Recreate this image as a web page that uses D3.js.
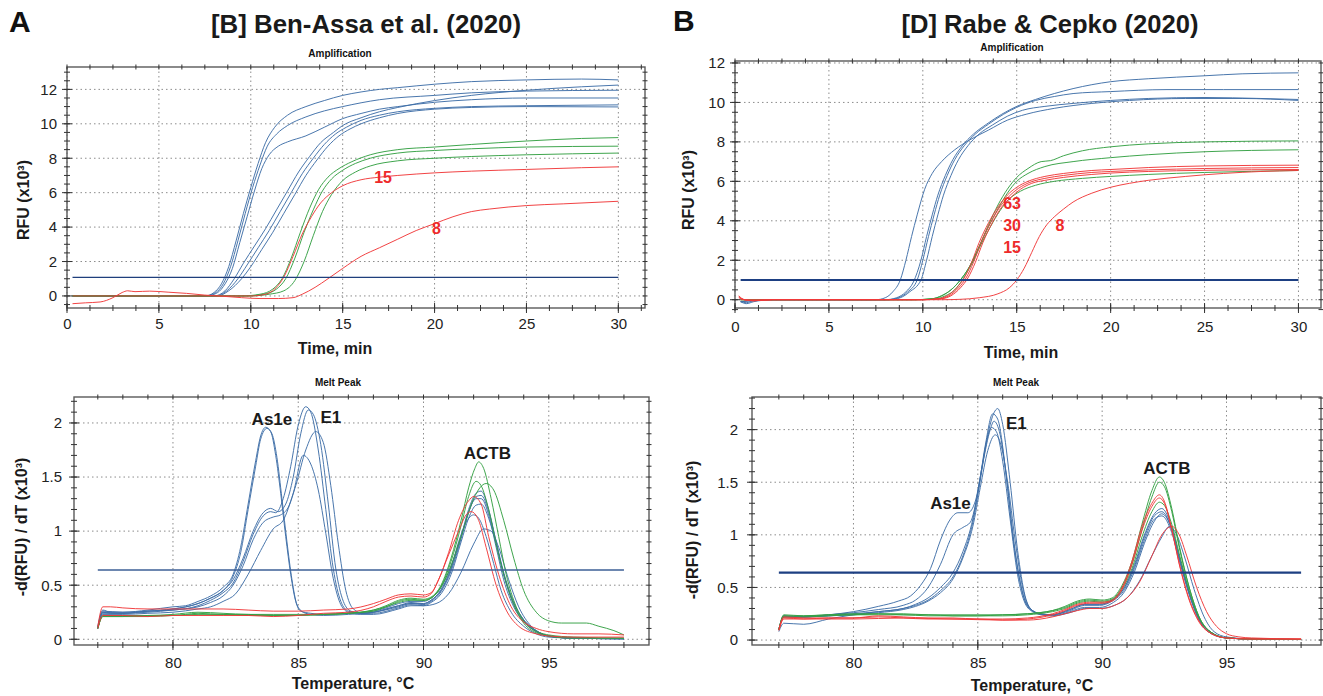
<!DOCTYPE html>
<html>
<head>
<meta charset="utf-8">
<script src="https://cdn.jsdelivr.net/npm/d3@7"></script>
<style>
  body { margin: 0; background: #fff; }
  svg { display: block; font-family: "Liberation Sans", Arial, sans-serif; }
</style>
</head>
<body>
<svg id="fig" width="1323" height="696"></svg>
<script>
// ---- tick values ----
const ampTicksX = [0, 5, 10, 15, 20, 25, 30];
const ampTicksY = [0, 2, 4, 6, 8, 10, 12];
const meltTicksX = [80, 85, 90, 95];
const meltTicksY = [0, 0.5, 1, 1.5, 2];

// ---- [B] Ben-Assa amplification (min, RFU x10^3) ----
const ampA_blue = [
  [[0.3,0],[7.5,0],[8,0.2],[8.4,0.7],[8.8,1.7],[9.2,3.2],[9.6,4.8],[10,6.3],[10.4,7.7],[10.8,8.9],[11.3,9.8],[12,10.5],[13,11.0],[14,11.35],[15,11.65],[16,11.85],[17,12.0],[18,12.1],[20,12.3],[22,12.45],[25,12.55],[28,12.6],[30,12.55]],
  [[0.3,0],[7.5,0],[8.1,0.2],[8.5,0.7],[8.9,1.7],[9.3,3.2],[9.7,4.8],[10.1,6.3],[10.5,7.6],[10.9,8.7],[11.4,9.4],[12,9.9],[13,10.4],[14,10.75],[15,11.0],[17,11.4],[20,11.65],[22,11.8],[25,11.9],[30,11.95]],
  [[0.3,0],[7.6,0],[8.2,0.2],[8.6,0.7],[9,1.6],[9.4,3.1],[9.8,4.6],[10.2,6.1],[10.6,7.4],[11,8.2],[11.5,8.7],[12,8.95],[13,9.3],[14,9.8],[15,10.3],[16,10.6],[17,10.85],[18,11.0],[20,11.25],[22,11.4],[25,11.5],[30,11.5]],
  [[0.3,0],[8,0],[8.6,0.3],[9.1,1.0],[9.6,1.9],[10.2,2.9],[10.8,3.9],[11.4,5.0],[12,6.1],[12.6,7.2],[13.2,8.1],[13.8,8.9],[14.5,9.5],[15,9.9],[16,10.35],[17,10.7],[18,10.95],[20,11.35],[22,11.65],[25,11.95],[28,12.15],[30,12.25]],
  [[0.3,0],[8.1,0],[8.7,0.3],[9.3,1.0],[9.8,1.8],[10.4,2.8],[11,3.8],[11.6,4.9],[12.2,6.0],[12.8,7.1],[13.4,8.0],[14,8.8],[14.6,9.4],[15.2,9.8],[16,10.2],[17,10.5],[18,10.7],[20,10.9],[22,11.0],[25,11.05],[30,11.1]],
  [[0.3,0],[8.2,0],[8.8,0.3],[9.5,1.0],[10,1.7],[10.6,2.7],[11.2,3.7],[11.8,4.8],[12.4,5.9],[13,7.0],[13.6,7.9],[14.2,8.7],[14.8,9.3],[15.4,9.7],[16,10.0],[17,10.35],[18,10.6],[20,10.85],[22,10.95],[25,11.0],[30,10.98]]
];
const ampA_green = [
  [[0.3,0],[9.5,0],[10.5,0.1],[11.2,0.4],[11.7,1.0],[12.2,2.2],[12.7,3.7],[13.2,5.1],[13.7,6.2],[14.2,6.9],[14.8,7.4],[15.5,7.8],[16.5,8.2],[18,8.5],[20,8.65],[22,8.8],[25,9.0],[28,9.15],[30,9.2]],
  [[0.3,0],[9.7,0],[10.7,0.1],[11.4,0.4],[11.9,1.0],[12.4,2.2],[12.9,3.7],[13.4,5.0],[13.9,6.1],[14.4,6.8],[15,7.3],[15.7,7.7],[16.5,8.0],[18,8.3],[20,8.45],[22,8.55],[25,8.65],[30,8.7]],
  [[0.3,0],[10,0],[11,0.1],[11.8,0.3],[12.4,0.9],[12.9,2.0],[13.4,3.5],[13.9,4.9],[14.4,5.9],[15,6.7],[15.7,7.2],[16.5,7.55],[18,7.85],[20,8.0],[22,8.1],[25,8.2],[30,8.3]]
];
const ampA_red = [
  [[0.3,0],[9,0],[10,0],[10.8,0.1],[11.3,0.4],[11.8,1.1],[12.3,2.3],[12.8,3.6],[13.3,4.6],[13.8,5.4],[14.4,6.0],[15,6.4],[16,6.75],[17,6.9],[18,7.0],[20,7.15],[22,7.25],[25,7.35],[28,7.45],[30,7.5]],
  [[0.3,-0.45],[1,-0.4],[1.8,-0.35],[2.5,-0.1],[3,0.2],[3.3,0.3],[3.7,0.25],[4.5,0.28],[5.5,0.22],[6.5,0.15],[7.5,0.05],[8.5,-0.02],[9.5,-0.1],[10.5,-0.15],[11.5,-0.15],[12.3,-0.1],[12.8,0.1],[13.5,0.5],[14.2,1.0],[15,1.6],[16,2.3],[17,2.8],[18,3.3],[19,3.8],[20,4.2],[21,4.6],[22,4.9],[23,5.05],[25,5.25],[27,5.35],[30,5.5]]
];
const ampA_labels = [["15", 17.2, 6.9], ["8", 20.1, 3.9]];
const ampA_threshold = 1.08;

// ---- [D] Rabe & Cepko amplification ----
const ampB_blue = [
  [[0.3,-0.1],[0.6,-0.15],[1,-0.05],[2,0],[7.5,0],[8,0.1],[8.4,0.4],[8.8,1.0],[9.1,2.0],[9.4,3.2],[9.7,4.3],[10.1,5.6],[10.5,6.4],[11,7.0],[11.7,7.6],[12.5,8.1],[13.5,8.6],[14.5,9.1],[15.5,9.4],[17,9.7],[19,9.95],[21,10.1],[24,10.2],[27,10.2],[30,10.1]],
  [[0.3,-0.1],[0.6,-0.2],[1,-0.1],[2,0],[8,0],[8.6,0.1],[9.1,0.4],[9.5,0.9],[9.9,2.0],[10.2,3.2],[10.5,4.3],[10.8,5.3],[11.2,6.3],[11.6,7.1],[12.1,7.8],[12.7,8.4],[13.4,8.9],[14.2,9.4],[15,9.8],[16,10.15],[17,10.45],[18,10.7],[19,10.9],[20,11.05],[22,11.2],[25,11.35],[27,11.45],[30,11.5]],
  [[0.3,-0.1],[2,0],[8.1,0],[8.7,0.1],[9.2,0.4],[9.7,1.0],[10,2.0],[10.3,3.2],[10.6,4.3],[10.9,5.3],[11.3,6.3],[11.7,7.1],[12.2,7.8],[12.8,8.4],[13.5,8.9],[14.3,9.4],[15,9.75],[16,10.1],[17,10.3],[18,10.45],[20,10.55],[23,10.65],[26,10.65],[30,10.65]],
  [[0.3,-0.1],[2,0],[8.2,0],[8.8,0.1],[9.3,0.4],[9.9,1.0],[10.2,2.0],[10.5,3.2],[10.8,4.3],[11.1,5.3],[11.5,6.3],[11.9,7.1],[12.4,7.8],[13,8.4],[13.7,8.85],[14.5,9.3],[15.3,9.6],[16.5,9.8],[18,9.95],[20,10.1],[22,10.2],[25,10.25],[28,10.2],[30,10.15]]
];
const ampB_green = [
  [[0.3,0],[9.5,0],[10.5,0.05],[11,0.2],[11.5,0.5],[12,1.0],[12.5,1.7],[13,2.7],[13.5,3.8],[14,4.8],[14.5,5.6],[15,6.2],[15.6,6.65],[16.3,7.0],[16.8,7.05],[17.5,7.3],[18.5,7.55],[20,7.75],[22,7.9],[25,8.0],[30,8.05]],
  [[0.3,0],[9.5,0],[10.5,0.05],[11,0.2],[11.5,0.5],[12,1.0],[12.5,1.7],[13,2.7],[13.5,3.7],[14,4.6],[14.5,5.4],[15,6.0],[15.6,6.4],[16.5,6.75],[18,7.0],[20,7.2],[22,7.35],[25,7.5],[30,7.6]],
  [[0.3,0],[9.7,0],[10.7,0.05],[11.2,0.2],[11.7,0.5],[12.1,1.0],[12.6,1.8],[13.1,2.8],[13.6,3.7],[14.1,4.5],[14.6,5.1],[15.2,5.5],[16,5.8],[17,6.0],[18.5,6.15],[20,6.25],[22,6.35],[25,6.45],[30,6.55]]
];
const ampB_red = [
  [[0.2,0.2],[0.5,0],[1,-0.05],[2,0],[10,0],[10.8,0.05],[11.3,0.2],[11.8,0.6],[12.2,1.1],[12.6,1.9],[13,2.9],[13.5,3.9],[14,4.7],[14.5,5.3],[15,5.7],[15.6,6.0],[16.5,6.25],[17.5,6.4],[19,6.55],[20,6.6],[22,6.7],[25,6.78],[30,6.82]],
  [[0.2,0.15],[0.5,0],[1,-0.05],[2,0],[10,0],[10.9,0.05],[11.4,0.2],[11.9,0.6],[12.3,1.1],[12.7,1.9],[13.1,2.9],[13.6,3.9],[14.1,4.7],[14.6,5.25],[15.1,5.65],[15.7,5.95],[16.5,6.15],[17.5,6.3],[19,6.45],[20,6.5],[22,6.58],[25,6.65],[30,6.7]],
  [[0.2,0.1],[0.5,0],[1,-0.05],[2,0],[10,0],[11,0.05],[11.5,0.2],[12,0.6],[12.4,1.1],[12.8,1.9],[13.2,2.9],[13.7,3.9],[14.2,4.7],[14.7,5.2],[15.2,5.6],[15.8,5.9],[16.5,6.05],[17.5,6.2],[19,6.35],[20,6.42],[22,6.5],[25,6.56],[30,6.6]],
  [[0.3,0],[11,0],[12,0.02],[13,0.1],[14,0.3],[14.6,0.6],[15,1.0],[15.4,1.6],[15.8,2.4],[16.2,3.2],[16.6,3.8],[17,4.2],[17.5,4.6],[18,4.95],[19,5.4],[20,5.7],[21,5.9],[22,6.05],[24,6.25],[26,6.4],[28,6.5],[30,6.55]]
];
const ampB_labels = [["63", 14.75, 4.9], ["30", 14.75, 3.75], ["15", 14.75, 2.65], ["8", 17.3, 3.75]];
const ampB_threshold = 1.0;

// ---- [B] Ben-Assa melt peak (degC, -dRFU/dT x10^3) ----
const meltA_blue = [
  [[77,0.12],[77.2,0.27],[77.5,0.25],[78,0.25],[79,0.27],[80,0.3],[80.5,0.31],[81,0.35],[81.5,0.4],[82,0.48],[82.4,0.6],[82.7,0.85],[83,1.25],[83.3,1.65],[83.5,1.88],[83.7,1.96],[83.9,1.92],[84.1,1.7],[84.3,1.35],[84.5,0.95],[84.7,0.6],[84.9,0.35],[85.1,0.26],[85.5,0.24],[86,0.23],[87,0.24],[88,0.26],[88.5,0.29],[89,0.33],[89.5,0.35],[90,0.35],[90.3,0.38],[90.7,0.48],[91.1,0.68],[91.5,0.95],[91.8,1.18],[92.1,1.3],[92.3,1.3],[92.6,1.15],[92.9,0.85],[93.2,0.55],[93.6,0.3],[94,0.16],[94.5,0.07],[95,0.03],[96,0.01],[98,0.005]],
  [[77,0.11],[77.2,0.25],[77.5,0.24],[78,0.24],[79,0.26],[80,0.28],[81,0.33],[81.5,0.38],[82,0.45],[82.4,0.58],[82.7,0.8],[83,1.2],[83.3,1.6],[83.5,1.85],[83.75,1.95],[83.95,1.9],[84.15,1.68],[84.35,1.3],[84.55,0.9],[84.75,0.55],[84.95,0.32],[85.2,0.25],[85.5,0.23],[86,0.22],[87,0.23],[88,0.25],[88.5,0.28],[89,0.31],[89.5,0.33],[90,0.33],[90.3,0.36],[90.7,0.46],[91.1,0.66],[91.4,0.9],[91.7,1.08],[92,1.15],[92.2,1.12],[92.5,0.95],[92.8,0.7],[93.1,0.45],[93.5,0.25],[94,0.12],[94.5,0.05],[95,0.02],[96,0.01],[98,0.005]],
  [[77,0.1],[77.2,0.26],[78,0.25],[79,0.26],[80,0.28],[81,0.33],[81.5,0.38],[82,0.45],[82.4,0.55],[82.8,0.75],[83.2,1.0],[83.6,1.17],[83.9,1.21],[84.2,1.18],[84.5,1.25],[84.8,1.5],[85.1,1.9],[85.4,2.12],[85.6,2.08],[85.9,1.8],[86.2,1.25],[86.5,0.65],[86.8,0.35],[87.1,0.26],[87.5,0.24],[88,0.25],[89,0.31],[89.5,0.34],[90,0.33],[90.3,0.36],[90.7,0.45],[91.1,0.65],[91.5,0.95],[91.8,1.2],[92.1,1.35],[92.3,1.37],[92.6,1.2],[92.9,0.9],[93.2,0.6],[93.6,0.32],[94,0.17],[94.5,0.07],[95,0.03],[96,0.01],[98,0.005]],
  [[77,0.1],[77.2,0.25],[78,0.24],[79,0.26],[80,0.27],[81,0.31],[81.5,0.36],[82,0.43],[82.4,0.52],[82.8,0.72],[83.2,0.97],[83.6,1.14],[83.9,1.18],[84.1,1.17],[84.4,1.3],[84.7,1.6],[85,1.98],[85.3,2.15],[85.5,2.1],[85.8,1.75],[86.1,1.2],[86.4,0.65],[86.7,0.35],[87,0.26],[87.5,0.24],[88,0.25],[89,0.3],[89.5,0.33],[90,0.32],[90.3,0.35],[90.7,0.44],[91.1,0.63],[91.5,0.93],[91.8,1.17],[92.1,1.32],[92.3,1.33],[92.6,1.18],[92.9,0.9],[93.2,0.62],[93.6,0.34],[94,0.18],[94.5,0.08],[95,0.03],[96,0.01],[98,0.005]],
  [[77,0.1],[77.2,0.24],[78,0.24],[79,0.25],[80,0.27],[81,0.3],[81.5,0.34],[82,0.4],[82.4,0.5],[82.8,0.68],[83.2,0.92],[83.6,1.08],[84,1.13],[84.3,1.15],[84.6,1.22],[84.9,1.42],[85.3,1.75],[85.7,1.92],[86,1.82],[86.3,1.42],[86.6,0.88],[86.9,0.45],[87.2,0.28],[87.6,0.24],[88,0.24],[89,0.29],[89.5,0.32],[90,0.31],[90.3,0.34],[90.7,0.42],[91.1,0.6],[91.5,0.9],[91.8,1.12],[92.1,1.24],[92.3,1.25],[92.6,1.12],[92.9,0.88],[93.2,0.6],[93.6,0.34],[94,0.18],[94.5,0.08],[95,0.03],[96,0.01],[98,0.005]],
  [[77,0.1],[77.2,0.23],[78,0.23],[79,0.24],[80,0.25],[81,0.28],[81.5,0.3],[82,0.35],[82.5,0.42],[83,0.6],[83.5,0.82],[84,1.02],[84.4,1.1],[84.8,1.35],[85.2,1.7],[85.5,1.62],[85.8,1.38],[86.1,0.98],[86.4,0.56],[86.7,0.32],[87,0.25],[87.5,0.23],[88,0.23],[89,0.28],[89.5,0.31],[90,0.31],[90.5,0.33],[91,0.42],[91.5,0.62],[92,0.88],[92.4,1.02],[92.7,1.0],[93,0.85],[93.4,0.55],[93.8,0.3],[94.3,0.12],[95,0.03],[96,0.01],[98,0.005]]
];
const meltA_green = [
  [[77,0.1],[77.2,0.22],[78,0.22],[79,0.22],[80,0.23],[81,0.25],[82,0.24],[83,0.23],[84,0.23],[85,0.23],[86,0.23],[87,0.24],[88,0.27],[88.5,0.31],[89,0.36],[89.5,0.38],[90,0.37],[90.3,0.39],[90.7,0.5],[91.1,0.75],[91.5,1.1],[91.8,1.4],[92.05,1.58],[92.2,1.64],[92.4,1.58],[92.7,1.3],[93,0.95],[93.3,0.6],[93.7,0.3],[94.2,0.12],[95,0.04],[96,0.02],[98,0.01]],
  [[77,0.1],[77.2,0.21],[78,0.21],[79,0.22],[80,0.22],[81,0.24],[82,0.23],[83,0.23],[84,0.22],[85,0.22],[86,0.23],[87,0.24],[88,0.27],[88.5,0.3],[89,0.35],[89.5,0.37],[90,0.36],[90.3,0.38],[90.7,0.49],[91.1,0.72],[91.5,1.05],[91.8,1.32],[92.1,1.46],[92.3,1.42],[92.6,1.2],[92.9,0.88],[93.3,0.52],[93.7,0.27],[94.2,0.1],[95,0.03],[96,0.01],[98,0.01]],
  [[77,0.1],[77.2,0.21],[78,0.21],[79,0.21],[80,0.22],[81,0.23],[82,0.23],[83,0.22],[84,0.22],[85,0.22],[86,0.23],[87,0.24],[88,0.26],[88.5,0.3],[89,0.34],[89.5,0.36],[90,0.36],[90.5,0.42],[91,0.62],[91.5,0.95],[92,1.3],[92.5,1.44],[92.8,1.38],[93.2,1.1],[93.6,0.75],[94,0.45],[94.5,0.25],[95,0.17],[95.5,0.15],[96.5,0.15],[97,0.12],[97.6,0.08],[98,0.04]]
];
const meltA_red = [
  [[77,0.12],[77.2,0.3],[77.5,0.3],[78,0.29],[79,0.28],[80,0.28],[81,0.28],[82,0.28],[83,0.27],[84,0.26],[85,0.26],[86,0.27],[87,0.28],[88,0.33],[88.5,0.37],[89,0.41],[89.5,0.42],[90,0.41],[90.3,0.43],[90.6,0.55],[91,0.8],[91.4,1.1],[91.8,1.28],[92,1.32],[92.3,1.25],[92.6,0.95],[93,0.6],[93.5,0.3],[94,0.16],[94.5,0.1],[95,0.07],[96,0.05],[97,0.05],[98,0.04]],
  [[77,0.1],[77.2,0.22],[78,0.22],[79,0.21],[80,0.22],[81,0.22],[82,0.22],[83,0.22],[84,0.21],[85,0.22],[86,0.24],[87,0.25],[88,0.3],[88.5,0.35],[89,0.39],[89.5,0.4],[90,0.39],[90.3,0.42],[90.6,0.55],[91,0.78],[91.4,1.0],[91.7,1.15],[91.9,1.18],[92.2,1.1],[92.5,0.85],[92.9,0.5],[93.3,0.27],[93.8,0.12],[94.5,0.05],[95,0.03],[96,0.02],[97,0.02],[98,0.02]]
];
const meltA_labels = [["As1e", 83.95, 2.03], ["E1", 86.3, 2.05], ["ACTB", 92.55, 1.72]];
const meltA_threshold = 0.64;

// ---- [D] Rabe & Cepko melt peak ----
const meltB_blue = [
  [[77,0.1],[77.2,0.23],[77.5,0.22],[78,0.22],[79,0.24],[80,0.27],[81,0.32],[81.8,0.37],[82.3,0.42],[82.7,0.52],[83.1,0.68],[83.5,0.95],[83.9,1.15],[84.2,1.21],[84.6,1.21],[84.9,1.32],[85.2,1.68],[85.5,2.0],[85.65,2.08],[85.9,1.95],[86.2,1.45],[86.5,0.85],[86.8,0.45],[87.1,0.3],[87.5,0.25],[88,0.24],[88.7,0.29],[89.3,0.34],[89.9,0.34],[90.4,0.38],[90.9,0.5],[91.3,0.7],[91.7,0.98],[92.1,1.18],[92.4,1.22],[92.8,1.05],[93.1,0.78],[93.5,0.44],[93.9,0.19],[94.4,0.06],[95,0.02],[96,0.01],[98,0.005]],
  [[77,0.1],[77.2,0.23],[78,0.22],[79,0.24],[80,0.26],[81,0.29],[82,0.33],[82.5,0.38],[83,0.5],[83.5,0.72],[84,1.0],[84.4,1.07],[84.7,1.12],[85,1.4],[85.3,1.85],[85.6,2.15],[85.8,2.1],[86.1,1.65],[86.4,1.0],[86.7,0.55],[87,0.32],[87.5,0.25],[88,0.24],[88.7,0.29],[89.3,0.34],[89.9,0.34],[90.4,0.38],[90.9,0.5],[91.3,0.72],[91.7,1.0],[92.1,1.2],[92.4,1.25],[92.8,1.07],[93.1,0.8],[93.5,0.45],[93.9,0.2],[94.4,0.07],[95,0.02],[96,0.01],[98,0.005]],
  [[77,0.08],[77.2,0.16],[78,0.15],[79,0.2],[80,0.24],[81,0.27],[82,0.3],[82.5,0.34],[83,0.4],[83.5,0.5],[84,0.64],[84.4,0.84],[84.8,1.15],[85.1,1.55],[85.4,1.95],[85.65,2.16],[85.8,2.2],[86,2.05],[86.3,1.5],[86.6,0.85],[86.9,0.42],[87.2,0.28],[87.6,0.24],[88,0.23],[88.7,0.27],[89.3,0.31],[89.9,0.31],[90.4,0.35],[90.9,0.46],[91.3,0.65],[91.7,0.92],[92.1,1.13],[92.4,1.2],[92.8,1.05],[93.1,0.78],[93.5,0.45],[93.9,0.2],[94.4,0.07],[95,0.02],[96,0.01],[98,0.005]],
  [[77,0.1],[77.2,0.22],[78,0.22],[79,0.23],[80,0.25],[81,0.27],[82,0.3],[82.5,0.33],[83,0.38],[83.5,0.47],[84,0.6],[84.4,0.8],[84.8,1.12],[85.1,1.52],[85.35,1.88],[85.55,2.02],[85.75,1.98],[86,1.7],[86.3,1.15],[86.6,0.62],[86.9,0.35],[87.2,0.27],[87.6,0.24],[88,0.24],[88.7,0.28],[89.3,0.33],[89.9,0.33],[90.4,0.37],[90.9,0.48],[91.3,0.68],[91.7,0.95],[92.1,1.15],[92.4,1.18],[92.8,1.02],[93.1,0.76],[93.5,0.43],[93.9,0.19],[94.4,0.06],[95,0.02],[96,0.01],[98,0.005]],
  [[77,0.1],[77.2,0.22],[78,0.22],[79,0.23],[80,0.24],[81,0.26],[82,0.29],[82.5,0.32],[83,0.37],[83.5,0.45],[84,0.58],[84.4,0.78],[84.8,1.08],[85.1,1.45],[85.4,1.8],[85.7,1.95],[85.9,1.88],[86.2,1.5],[86.5,0.95],[86.8,0.5],[87.1,0.3],[87.5,0.25],[88,0.23],[88.7,0.26],[89.3,0.3],[89.9,0.3],[90.5,0.33],[91,0.4],[91.5,0.56],[92,0.8],[92.4,0.98],[92.7,1.08],[93,1.0],[93.3,0.8],[93.7,0.48],[94.1,0.22],[94.5,0.08],[95,0.03],[96,0.01],[98,0.005]]
];
const meltB_green = [
  [[77,0.1],[77.2,0.24],[78,0.23],[79,0.24],[80,0.25],[81,0.25],[82,0.25],[83,0.24],[84,0.24],[85,0.24],[86,0.24],[87,0.25],[88,0.28],[88.5,0.32],[89,0.37],[89.5,0.39],[90,0.38],[90.4,0.4],[90.8,0.52],[91.2,0.75],[91.6,1.1],[92,1.42],[92.3,1.55],[92.5,1.5],[92.8,1.25],[93.1,0.9],[93.5,0.5],[93.9,0.22],[94.4,0.07],[95,0.02],[96,0.01],[98,0.005]],
  [[77,0.1],[77.2,0.23],[78,0.23],[79,0.24],[80,0.24],[81,0.25],[82,0.24],[83,0.24],[84,0.23],[85,0.23],[86,0.24],[87,0.25],[88,0.28],[88.5,0.31],[89,0.36],[89.5,0.38],[90,0.37],[90.4,0.39],[90.8,0.5],[91.2,0.72],[91.6,1.05],[92,1.36],[92.3,1.5],[92.5,1.46],[92.8,1.22],[93.1,0.88],[93.5,0.5],[93.9,0.22],[94.4,0.07],[95,0.02],[96,0.01],[98,0.005]],
  [[77,0.1],[77.2,0.22],[78,0.22],[79,0.23],[80,0.24],[81,0.24],[82,0.24],[83,0.23],[84,0.23],[85,0.23],[86,0.23],[87,0.24],[88,0.27],[88.5,0.3],[89,0.35],[89.5,0.37],[90,0.36],[90.4,0.38],[90.8,0.48],[91.2,0.68],[91.6,0.98],[92,1.22],[92.3,1.31],[92.5,1.28],[92.8,1.1],[93.1,0.82],[93.5,0.47],[93.9,0.21],[94.4,0.07],[95,0.02],[96,0.01],[98,0.005]]
];
const meltB_red = [
  [[77,0.1],[77.2,0.22],[78,0.21],[79,0.21],[80,0.21],[81,0.23],[82,0.22],[83,0.21],[84,0.21],[85,0.2],[86,0.2],[87,0.21],[88,0.25],[88.5,0.29],[89,0.34],[89.5,0.36],[90,0.36],[90.4,0.38],[90.8,0.5],[91.2,0.75],[91.6,1.08],[92,1.3],[92.3,1.38],[92.5,1.32],[92.8,1.05],[93.1,0.72],[93.5,0.38],[93.9,0.17],[94.4,0.06],[95,0.02],[96,0.01],[98,0.01]],
  [[77,0.1],[77.2,0.21],[78,0.2],[79,0.21],[80,0.21],[81,0.22],[82,0.21],[83,0.2],[84,0.2],[85,0.2],[86,0.19],[87,0.2],[88,0.24],[88.5,0.28],[89,0.33],[89.5,0.35],[90,0.35],[90.4,0.37],[90.8,0.48],[91.2,0.72],[91.6,1.04],[92,1.27],[92.3,1.35],[92.5,1.3],[92.8,1.05],[93.1,0.73],[93.5,0.39],[93.9,0.18],[94.4,0.06],[95,0.02],[96,0.01],[98,0.01]],
  [[77,0.09],[77.2,0.2],[78,0.2],[80,0.2],[82,0.21],[84,0.2],[86,0.19],[87,0.19],[88,0.22],[88.5,0.25],[89,0.28],[89.5,0.3],[90,0.3],[90.5,0.33],[91,0.4],[91.5,0.55],[92,0.8],[92.4,1.0],[92.8,1.08],[93.1,1.0],[93.4,0.8],[93.8,0.5],[94.2,0.27],[94.6,0.13],[95,0.06],[95.5,0.03],[96,0.02],[98,0.01]]
];
const meltB_labels = [["E1", 86.55, 2.06], ["As1e", 83.9, 1.3], ["ACTB", 92.6, 1.63]];
const meltB_threshold = 0.64;

// ---- colours ----
const cBlue = "#3f6fa8", cGreen = "#35a043", cRed = "#f0393a", cNavy = "#1f3f7c";

const svg = d3.select("#fig");
const fmt = d3.format("~g"); // 0, 0.5, 1, 1.5, 2

function drawPanel(p) {
  const g = svg.append("g");
  const x = d3.scaleLinear().domain(p.xDomain).range([p.left, p.right]);
  const y = d3.scaleLinear().domain(p.yDomain).range([p.bottom, p.top]);

  // dotted grid
  g.selectAll(".gx").data(p.xTicks).join("line")
    .attr("x1", d => x(d)).attr("x2", d => x(d))
    .attr("y1", p.top).attr("y2", p.bottom)
    .attr("stroke", "#8c8c8c").attr("stroke-width", 1).attr("stroke-dasharray", "1.5,3");
  g.selectAll(".gy").data(p.yTicks).join("line")
    .attr("x1", p.left).attr("x2", p.right)
    .attr("y1", d => y(d)).attr("y2", d => y(d))
    .attr("stroke", "#8c8c8c").attr("stroke-width", 1).attr("stroke-dasharray", "1.5,3");

  // curves
  const line = d3.line().x(d => x(d[0])).y(d => y(d[1])).curve(d3.curveMonotoneX);
  p.series.forEach(s => {
    g.append("g").selectAll("path").data(s.data).join("path")
      .attr("d", line)
      .attr("fill", "none")
      .attr("stroke", s.color)
      .attr("stroke-width", 1)
      .attr("stroke-opacity", 0.95);
  });

  // threshold
  g.append("line")
    .attr("x1", x(p.thrRange[0])).attr("x2", x(p.thrRange[1]))
    .attr("y1", y(p.threshold)).attr("y2", y(p.threshold))
    .attr("stroke", p.thrColor).attr("stroke-width", p.thrWidth);

  // frame
  g.append("rect")
    .attr("x", p.left).attr("y", p.top)
    .attr("width", p.right - p.left).attr("height", p.bottom - p.top)
    .attr("fill", "none").attr("stroke", "#5a5a5a").attr("stroke-width", 1.4);

  // minor ticks (crossing the frame) and major ticks
  const minorX = d3.range(p.minorX[0], p.xDomain[1], p.minorX[1]);
  const minorY = d3.range(p.minorY[0], p.yDomain[1], p.minorY[1]);
  const tickLine = (sel, vals, horiz, pos, len) => {
    sel.append("g").selectAll("line").data(vals).join("line")
      .attr("x1", d => horiz ? x(d) : pos - len).attr("x2", d => horiz ? x(d) : pos + len)
      .attr("y1", d => horiz ? pos - len : y(d)).attr("y2", d => horiz ? pos + len : y(d))
      .attr("stroke", "#333").attr("stroke-width", 1);
  };
  tickLine(g, minorX, true, p.bottom, 3);
  tickLine(g, minorX, true, p.top, 2.5);
  tickLine(g, minorY, false, p.left, 3);
  tickLine(g, minorY, false, p.right, 2.5);
  tickLine(g, p.xTicks, true, p.bottom, 5);
  tickLine(g, p.yTicks, false, p.left, 5);

  // tick labels via d3 axes
  const ax = g.append("g").attr("transform", `translate(0,${p.bottom})`)
    .call(d3.axisBottom(x).tickValues(p.xTicks).tickFormat(fmt).tickSize(0).tickPadding(p.xPad));
  const ay = g.append("g").attr("transform", `translate(${p.left},0)`)
    .call(d3.axisLeft(y).tickValues(p.yTicks).tickFormat(fmt).tickSize(0).tickPadding(p.yPad));
  [ax, ay].forEach(a => {
    a.select(".domain").remove();
    a.selectAll("text").attr("font-size", 15).attr("fill", "#222")
      .attr("font-family", "'Liberation Sans', Arial, sans-serif");
  });

  // curve labels
  g.selectAll(".lab").data(p.labels).join("text")
    .attr("x", d => x(d[1])).attr("y", d => y(d[2]))
    .attr("text-anchor", "middle").attr("dominant-baseline", "central")
    .attr("font-size", p.labelSize).attr("font-weight", "bold")
    .attr("fill", p.labelColor)
    .text(d => d[0]);

  // small chart title
  g.append("text").attr("x", p.subX).attr("y", p.subY)
    .attr("text-anchor", "middle").attr("font-size", 10).attr("font-weight", "bold")
    .attr("fill", "#111").text(p.sub);

  // axis titles
  g.append("text").attr("x", p.xLabX).attr("y", p.xLabY)
    .attr("text-anchor", "middle").attr("font-size", 16).attr("font-weight", "bold")
    .attr("fill", "#1a1a1a").text(p.xLabel);
  g.append("text")
    .attr("transform", `translate(${p.yLabX},${p.yLabY}) rotate(-90)`)
    .attr("text-anchor", "middle").attr("font-size", 16).attr("font-weight", "bold")
    .attr("fill", "#1a1a1a").text(p.yLabel);
}

const ampSeries = (b, gr, r) => [{ data: b, color: cBlue }, { data: gr, color: cGreen }, { data: r, color: cRed }];

// panel A top
drawPanel({
  left: 67, right: 645, top: 67, bottom: 308,
  xDomain: [0, 31.45], yDomain: [-0.7, 13.3],
  xTicks: ampTicksX, yTicks: ampTicksY, minorX: [0, 1.25], minorY: [-0.5, 0.5],
  series: ampSeries(ampA_blue, ampA_green, ampA_red),
  threshold: ampA_threshold, thrRange: [0.3, 30], thrColor: cNavy, thrWidth: 1.3,
  labels: ampA_labels, labelSize: 16, labelColor: "#ee2a2a",
  xPad: 10, yPad: 10,
  sub: "Amplification", subX: 340, subY: 57,
  xLabel: "Time, min", xLabX: 335, xLabY: 354,
  yLabel: "RFU (x10³)", yLabX: 29, yLabY: 200
});

// panel B top
drawPanel({
  left: 735, right: 1321, top: 61, bottom: 308,
  xDomain: [0, 31.2], yDomain: [-0.42, 12.1],
  xTicks: ampTicksX, yTicks: ampTicksY, minorX: [0, 1.25], minorY: [-0.5, 0.5],
  series: ampSeries(ampB_blue, ampB_green, ampB_red),
  threshold: ampB_threshold, thrRange: [0.3, 30], thrColor: "#1d3f82", thrWidth: 2.2,
  labels: ampB_labels, labelSize: 16, labelColor: "#ee2a2a",
  xPad: 13, yPad: 10,
  sub: "Amplification", subX: 1012, subY: 51,
  xLabel: "Time, min", xLabX: 1021, xLabY: 358,
  yLabel: "RFU (x10³)", yLabX: 694, yLabY: 190
});

// panel A bottom
drawPanel({
  left: 74, right: 649, top: 397, bottom: 645,
  xDomain: [76.05, 99.0], yDomain: [-0.053, 2.24],
  xTicks: meltTicksX, yTicks: meltTicksY, minorX: [77, 1], minorY: [0, 0.1],
  series: ampSeries(meltA_blue, meltA_green, meltA_red),
  threshold: meltA_threshold, thrRange: [77, 98], thrColor: "#3d5f96", thrWidth: 1.6,
  labels: meltA_labels, labelSize: 17, labelColor: "#1a1a1a",
  xPad: 12, yPad: 12,
  sub: "Melt Peak", subX: 338, subY: 386,
  xLabel: "Temperature, °C", xLabX: 353, xLabY: 689,
  yLabel: "-d(RFU) / dT (x10³)", yLabX: 27, yLabY: 527
});

// panel B bottom
drawPanel({
  left: 752, right: 1321, top: 397, bottom: 645,
  xDomain: [75.92, 98.8], yDomain: [-0.047, 2.31],
  xTicks: meltTicksX, yTicks: meltTicksY, minorX: [77, 1], minorY: [0, 0.1],
  series: ampSeries(meltB_blue, meltB_green, meltB_red),
  threshold: meltB_threshold, thrRange: [77, 98], thrColor: "#1d3f82", thrWidth: 2.2,
  labels: meltB_labels, labelSize: 17, labelColor: "#1a1a1a",
  xPad: 12, yPad: 14,
  sub: "Melt Peak", subX: 1016, subY: 386,
  xLabel: "Temperature, °C", xLabX: 1032, xLabY: 691,
  yLabel: "-d(RFU) / dT (x10³)", yLabX: 698, yLabY: 530
});

// panel letters and study titles
svg.append("text").attr("x", 9).attr("y", 32).attr("font-size", 30).attr("font-weight", "bold")
  .attr("fill", "#111").text("A");
svg.append("text").attr("x", 673).attr("y", 31).attr("font-size", 30).attr("font-weight", "bold")
  .attr("fill", "#111").text("B");
svg.append("text").attr("x", 366).attr("y", 33).attr("text-anchor", "middle")
  .attr("font-size", 25).attr("font-weight", "bold").attr("fill", "#1a1a1a")
  .attr("textLength", 310).attr("lengthAdjust", "spacingAndGlyphs")
  .text("[B] Ben-Assa et al. (2020)");
svg.append("text").attr("x", 1050).attr("y", 33).attr("text-anchor", "middle")
  .attr("font-size", 25).attr("font-weight", "bold").attr("fill", "#1a1a1a")
  .attr("textLength", 297).attr("lengthAdjust", "spacingAndGlyphs")
  .text("[D] Rabe & Cepko (2020)");
</script>
</body>
</html>
